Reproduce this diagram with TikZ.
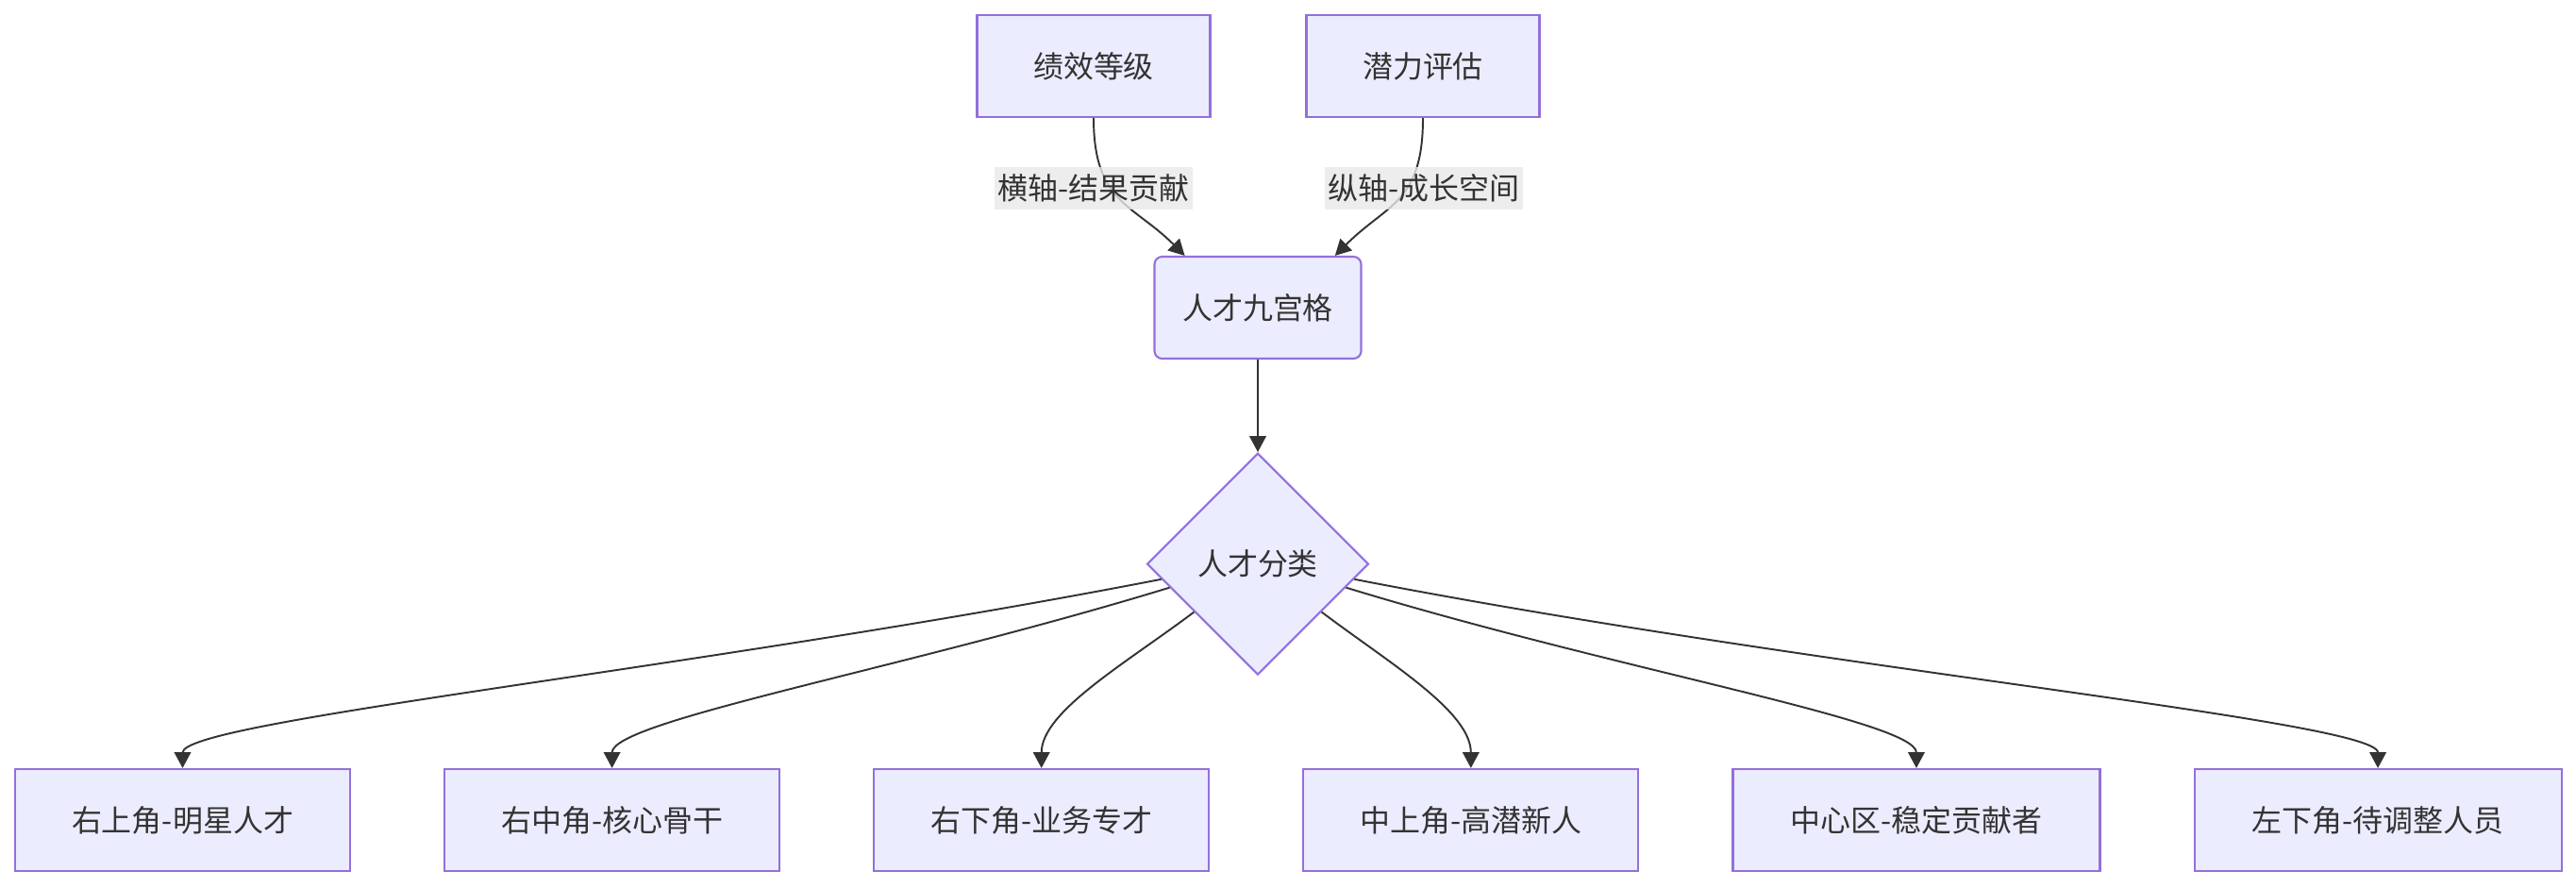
\documentclass[tikz,border=0pt]{standalone}
\usepackage{fontspec}
\setmainfont{Noto Sans CJK SC}
\usepackage{tikz}
\usetikzlibrary{arrows.meta,positioning,calc,shapes.geometric}
\definecolor{nodebg}{RGB}{236,236,255}
\definecolor{nodeline}{RGB}{147,112,219}
\definecolor{inktext}{RGB}{51,51,51}
\definecolor{labelbg}{RGB}{232,232,232}
\tikzset{
    srcbox/.style={draw=nodeline, fill=nodebg, line width=0.6pt, text=inktext, font=\fontsize{9.1pt}{11pt}\selectfont, minimum width=2.47cm, minimum height=1.08cm},
    gridbox/.style={srcbox, rounded corners=2.3pt, minimum width=2.19cm},
    decisionbox/.style={draw=nodeline, fill=nodebg, line width=0.6pt, text=inktext, font=\fontsize{9.1pt}{11pt}\selectfont, diamond, aspect=1, inner sep=0pt, minimum width=2.35cm, minimum height=2.35cm},
    catbox/.style={srcbox, minimum width=3.55cm},
    widecatbox/.style={srcbox, minimum width=3.89cm},
    axislabel/.style={fill=labelbg, fill opacity=0.8, text opacity=1, text=inktext, font=\fontsize{9.1pt}{11pt}\selectfont, inner xsep=1pt, inner ysep=0pt, minimum height=0.45cm},
    flowarrow/.style={-{Triangle[length=4.8pt, width=5pt]}, draw=inktext, line width=0.55pt}
}

\begin{document}
\begin{tikzpicture}[node distance=0.98cm]
    \useasboundingbox (0,0) rectangle (27.3,9.4);
    % inputs and grid
    \node[srcbox] (perf) at (11.59,8.70) {绩效等级};
    \node[srcbox] (potential) at (15.08,8.70) {潜力评估};
    \node[gridbox] (grid) at (13.33,6.14) {人才九宫格};
    \node[decisionbox, below=of grid] (classify) {人才分类};

    % categories
    \node[catbox] (star) at (1.935,0.71) {右上角-明星人才};
    \node[catbox, right=of star] (core) {右中角-核心骨干};
    \node[catbox, right=of core] (expert) {右下角-业务专才};
    \node[catbox, right=of expert] (newcomer) {中上角-高潜新人};
    \node[widecatbox, right=of newcomer] (steady) {中心区-稳定贡献者};
    \node[widecatbox, right=of steady] (adjust) {左下角-待调整人员};

    \draw[flowarrow] (perf.south) .. controls +(0,-0.9) and +(-0.55,0.55) .. ($(grid.north)!0.7!(grid.north west)$)
        node[axislabel, pos=0.4, xshift=-0.18cm] {横轴-结果贡献};
    \draw[flowarrow] (potential.south) .. controls +(0,-0.9) and +(0.55,0.55) .. ($(grid.north)!0.74!(grid.north east)$)
        node[axislabel, pos=0.4, xshift=0.18cm] {纵轴-成长空间};
    \draw[flowarrow] (grid.south) -- (classify.north);

    \draw[flowarrow] (classify.189) .. controls +(191:5) and +(0,0.5) .. (star.north);
    \draw[flowarrow] (classify.195) .. controls +(197:3) and +(0,0.5) .. (core.north);
    \draw[flowarrow] (classify.217) .. controls +(217:0.9) and +(0,0.6) .. (expert.north);
    \draw[flowarrow] (classify.323) .. controls +(323:0.9) and +(0,0.6) .. (newcomer.north);
    \draw[flowarrow] (classify.345) .. controls +(343:3) and +(0,0.5) .. (steady.north);
    \draw[flowarrow] (classify.351) .. controls +(349:5) and +(0,0.5) .. (adjust.north);
\end{tikzpicture}
\end{document}
